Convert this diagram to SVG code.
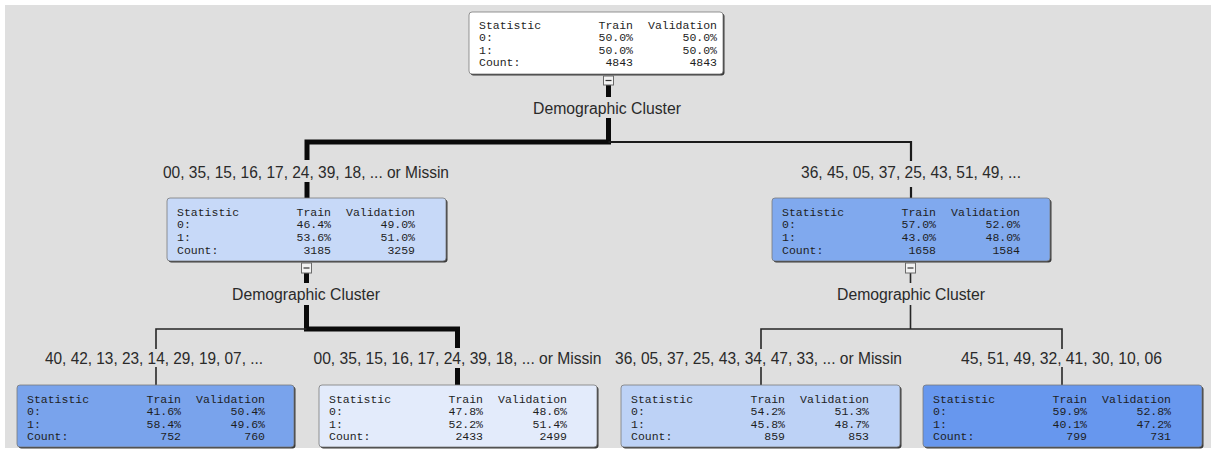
<svg xmlns="http://www.w3.org/2000/svg" width="1211" height="451" viewBox="0 0 1211 451">
<style>
.bg{fill:#dfdfdf}
.shadow{fill:#3a3a3a}
.box{stroke:#7a7a7a;stroke-width:0.8}
.t{font-family:"Liberation Mono","DejaVu Sans Mono",monospace;font-size:11.5px;fill:#1e1e1e}
.r{text-anchor:end}
.lbl{font-family:"Liberation Sans",Arial,sans-serif;font-size:16px;fill:#2a2a2a;text-anchor:middle}
.thick{stroke:#0a0a0a;stroke-width:5;fill:none;stroke-linejoin:miter;stroke-linecap:butt}
.thin{stroke:#262626;stroke-width:1.6;fill:none;stroke-linecap:butt}
.mid{stroke:#1a1a1a;stroke-width:2.2;fill:none}
.btn{fill:#f2f2f2;stroke:#6a6a6a;stroke-width:1}
.minus{stroke:#333;stroke-width:1.2}
</style>
<rect x="0" y="0" width="1211" height="451" fill="#ffffff"/>
<rect class="bg" x="5" y="5" width="1206" height="443"/>

<g id="connectors">
  <!-- root -> level 1 -->
  <line class="thick" x1="608.5" y1="85" x2="608.5" y2="97"/>
  <polyline class="thick" points="608.5,118 608.5,142 307,142 307,160"/>
  <line class="thick" x1="307" y1="182" x2="307" y2="198"/>
  <polyline class="mid" points="608.5,142 911,142 911,161"/>
  <line class="mid" x1="911" y1="187" x2="911" y2="198"/>
  <!-- left level 1 -> level 2 -->
  <line class="thick" x1="306.5" y1="273" x2="306.5" y2="283"/>
  <polyline class="thick" points="306.5,305 306.5,329 457.5,329 457.5,348"/>
  <line class="thick" x1="457.5" y1="368" x2="457.5" y2="385"/>
  <polyline class="thin" points="306.5,329 156,329 156,349"/>
  <line class="thin" x1="156" y1="367" x2="156" y2="385"/>
  <!-- right level 1 -> level 2 -->
  <line class="thin" x1="910.5" y1="273" x2="910.5" y2="283"/>
  <line class="thin" x1="910.5" y1="305" x2="910.5" y2="329"/>
  <polyline class="thin" points="761,349 761,329 1062,329 1062,349"/>
  <line class="thin" x1="761" y1="367" x2="761" y2="385"/>
  <line class="thin" x1="1062" y1="367" x2="1062" y2="385"/>
</g>

<g id="labels">
  <text class="lbl" x="607" y="114" textLength="148" lengthAdjust="spacingAndGlyphs">Demographic Cluster</text>
  <text class="lbl" x="306" y="178" textLength="286" lengthAdjust="spacingAndGlyphs">00, 35, 15, 16, 17, 24, 39, 18, ... or Missin</text>
  <text class="lbl" x="911" y="178" textLength="220" lengthAdjust="spacingAndGlyphs">36, 45, 05, 37, 25, 43, 51, 49, ...</text>
  <text class="lbl" x="306" y="300" textLength="148" lengthAdjust="spacingAndGlyphs">Demographic Cluster</text>
  <text class="lbl" x="911" y="300" textLength="148" lengthAdjust="spacingAndGlyphs">Demographic Cluster</text>
  <text class="lbl" x="154" y="364" textLength="218" lengthAdjust="spacingAndGlyphs">40, 42, 13, 23, 14, 29, 19, 07, ...</text>
  <text class="lbl" x="457.5" y="364" textLength="288" lengthAdjust="spacingAndGlyphs">00, 35, 15, 16, 17, 24, 39, 18, ... or Missin</text>
  <text class="lbl" x="758.5" y="364" textLength="287" lengthAdjust="spacingAndGlyphs">36, 05, 37, 25, 43, 34, 47, 33, ... or Missin</text>
  <text class="lbl" x="1061.5" y="364" textLength="201" lengthAdjust="spacingAndGlyphs">45, 51, 49, 32, 41, 30, 10, 06</text>
</g>

<g id="node-root">
  <rect class="shadow" x="470.5" y="13.5" width="254" height="62" rx="3"/>
  <rect class="box" x="469" y="12" width="254" height="62" rx="3" fill="#ffffff"/>
  <text class="t" x="479" y="29">Statistic</text>
  <text class="t r" x="633" y="29">Train</text>
  <text class="t r" x="717" y="29">Validation</text>
  <text class="t" x="479" y="41">0:</text>
  <text class="t r" x="633" y="41">50.0%</text>
  <text class="t r" x="717" y="41">50.0%</text>
  <text class="t" x="479" y="54">1:</text>
  <text class="t r" x="633" y="54">50.0%</text>
  <text class="t r" x="717" y="54">50.0%</text>
  <text class="t" x="479" y="66">Count:</text>
  <text class="t r" x="633" y="66">4843</text>
  <text class="t r" x="717" y="66">4843</text>
  <rect class="btn" x="603.5" y="76" width="10" height="9"/>
  <line class="minus" x1="605.5" y1="80.5" x2="611.5" y2="80.5"/>
</g>

<g id="node-l1-left">
  <rect class="shadow" x="168.5" y="199.5" width="279" height="63" rx="3"/>
  <rect class="box" x="167" y="198" width="279" height="63" rx="3" fill="#c7d9f8"/>
  <text class="t" x="177" y="216">Statistic</text>
  <text class="t r" x="331" y="216">Train</text>
  <text class="t r" x="415" y="216">Validation</text>
  <text class="t" x="177" y="228">0:</text>
  <text class="t r" x="331" y="228">46.4%</text>
  <text class="t r" x="415" y="228">49.0%</text>
  <text class="t" x="177" y="241">1:</text>
  <text class="t r" x="331" y="241">53.6%</text>
  <text class="t r" x="415" y="241">51.0%</text>
  <text class="t" x="177" y="254">Count:</text>
  <text class="t r" x="331" y="254">3185</text>
  <text class="t r" x="415" y="254">3259</text>
  <rect class="btn" x="301.5" y="263" width="10" height="10"/>
  <line class="minus" x1="303.5" y1="268" x2="309.5" y2="268"/>
</g>

<g id="node-l1-right">
  <rect class="shadow" x="773.5" y="199.5" width="278" height="63" rx="3"/>
  <rect class="box" x="772" y="198" width="278" height="63" rx="3" fill="#80a9ee"/>
  <text class="t" x="782" y="216">Statistic</text>
  <text class="t r" x="936" y="216">Train</text>
  <text class="t r" x="1020" y="216">Validation</text>
  <text class="t" x="782" y="228">0:</text>
  <text class="t r" x="936" y="228">57.0%</text>
  <text class="t r" x="1020" y="228">52.0%</text>
  <text class="t" x="782" y="241">1:</text>
  <text class="t r" x="936" y="241">43.0%</text>
  <text class="t r" x="1020" y="241">48.0%</text>
  <text class="t" x="782" y="254">Count:</text>
  <text class="t r" x="936" y="254">1658</text>
  <text class="t r" x="1020" y="254">1584</text>
  <rect class="btn" x="905.5" y="263" width="10" height="10"/>
  <line class="minus" x1="907.5" y1="268" x2="913.5" y2="268"/>
</g>

<g id="node-l2-1">
  <rect class="shadow" x="18.5" y="386.5" width="277" height="62" rx="3"/>
  <rect class="box" x="17" y="385" width="277" height="62" rx="3" fill="#79a3ec"/>
  <text class="t" x="27" y="403">Statistic</text>
  <text class="t r" x="181" y="403">Train</text>
  <text class="t r" x="265" y="403">Validation</text>
  <text class="t" x="27" y="415">0:</text>
  <text class="t r" x="181" y="415">41.6%</text>
  <text class="t r" x="265" y="415">50.4%</text>
  <text class="t" x="27" y="428">1:</text>
  <text class="t r" x="181" y="428">58.4%</text>
  <text class="t r" x="265" y="428">49.6%</text>
  <text class="t" x="27" y="440">Count:</text>
  <text class="t r" x="181" y="440">752</text>
  <text class="t r" x="265" y="440">760</text>
</g>

<g id="node-l2-2">
  <rect class="shadow" x="320.5" y="386.5" width="278" height="62" rx="3"/>
  <rect class="box" x="319" y="385" width="278" height="62" rx="3" fill="#e3ebfb"/>
  <text class="t" x="329" y="403">Statistic</text>
  <text class="t r" x="483" y="403">Train</text>
  <text class="t r" x="567" y="403">Validation</text>
  <text class="t" x="329" y="415">0:</text>
  <text class="t r" x="483" y="415">47.8%</text>
  <text class="t r" x="567" y="415">48.6%</text>
  <text class="t" x="329" y="428">1:</text>
  <text class="t r" x="483" y="428">52.2%</text>
  <text class="t r" x="567" y="428">51.4%</text>
  <text class="t" x="329" y="440">Count:</text>
  <text class="t r" x="483" y="440">2433</text>
  <text class="t r" x="567" y="440">2499</text>
</g>

<g id="node-l2-3">
  <rect class="shadow" x="622.5" y="386.5" width="279" height="62" rx="3"/>
  <rect class="box" x="621" y="385" width="279" height="62" rx="3" fill="#bdd2f6"/>
  <text class="t" x="631" y="403">Statistic</text>
  <text class="t r" x="785" y="403">Train</text>
  <text class="t r" x="869" y="403">Validation</text>
  <text class="t" x="631" y="415">0:</text>
  <text class="t r" x="785" y="415">54.2%</text>
  <text class="t r" x="869" y="415">51.3%</text>
  <text class="t" x="631" y="428">1:</text>
  <text class="t r" x="785" y="428">45.8%</text>
  <text class="t r" x="869" y="428">48.7%</text>
  <text class="t" x="631" y="440">Count:</text>
  <text class="t r" x="785" y="440">859</text>
  <text class="t r" x="869" y="440">853</text>
</g>

<g id="node-l2-4">
  <rect class="shadow" x="924.5" y="386.5" width="279" height="62" rx="3"/>
  <rect class="box" x="923" y="385" width="279" height="62" rx="3" fill="#6797ee"/>
  <text class="t" x="933" y="403">Statistic</text>
  <text class="t r" x="1087" y="403">Train</text>
  <text class="t r" x="1171" y="403">Validation</text>
  <text class="t" x="933" y="415">0:</text>
  <text class="t r" x="1087" y="415">59.9%</text>
  <text class="t r" x="1171" y="415">52.8%</text>
  <text class="t" x="933" y="428">1:</text>
  <text class="t r" x="1087" y="428">40.1%</text>
  <text class="t r" x="1171" y="428">47.2%</text>
  <text class="t" x="933" y="440">Count:</text>
  <text class="t r" x="1087" y="440">799</text>
  <text class="t r" x="1171" y="440">731</text>
</g>
</svg>
